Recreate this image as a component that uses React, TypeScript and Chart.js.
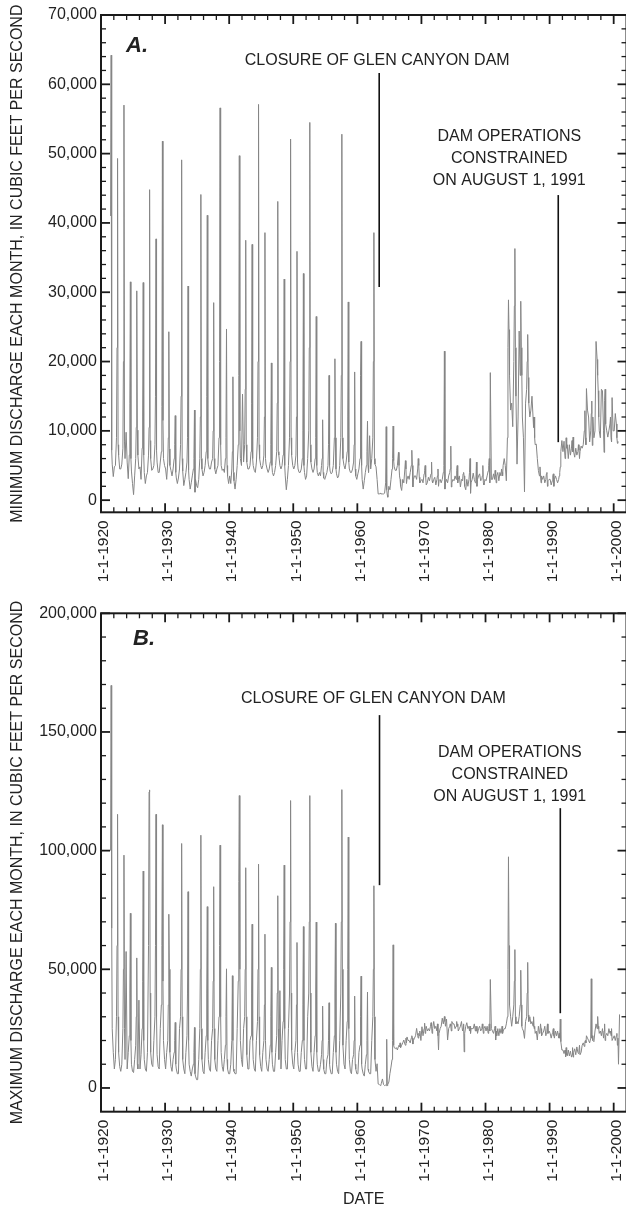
import React, { useEffect, useRef } from 'react';
import { Chart, registerables } from 'chart.js';

Chart.register(...registerables);

const FONT = "'Liberation Sans', Arial, Helvetica, sans-serif";
const TEXT = '#222';

// ---------- data ----------
const FIRST_YEAR = 1921;
// months sampled in each year (Jan, Mar, May, Jun, Jul, Aug, Sep, Nov), plotted at end of month
const sampleMonths = [1, 3, 5, 6, 7, 8, 9, 11];

const xTickYears = [1920, 1930, 1940, 1950, 1960, 1970, 1980, 1990, 2000];
const yTicksMin = [0, 10000, 20000, 30000, 40000, 50000, 60000, 70000];
const yTicksMax = [0, 50000, 100000, 150000, 200000];

// Panel A: minimum discharge each month (cfs), one row per year from 1921
const minDischarge: (number | null)[][] = [
  [null, null, null, 41000, 64200, 7200, 5200, 3400],
  [4800, 5000, 9000, 22000, 49300, 8000, 6500, 4500],
  [4500, 5200, 7500, 20000, 57000, 8400, 6000, 9800],
  [5500, 3100, 6500, 14000, 31500, 6000, 4200, 2400],
  [800, 3500, 6000, 10500, 30200, 10100, 6500, 4500],
  [4800, 3000, 7500, 12000, 31400, 6500, 4000, 2400],
  [3500, 4000, 6500, 10500, 44800, 8600, 6000, 4300],
  [4500, 5000, 8000, 15000, 37700, 7200, 5500, 4000],
  [4000, 5500, 7000, 13500, 51800, 11500, 6000, 5000],
  [4500, 3000, 5500, 9000, 24300, 7400, 5000, 4300],
  [3500, 4500, 6000, 8000, 12200, 4000, 3200, 2400],
  [3200, 4500, 8000, 15000, 49100, 6000, 4200, 2100],
  [3000, 4000, 5500, 9000, 30900, 4300, 3000, 1600],
  [2500, 3500, 4500, 6000, 13000, 1150, 3000, 2100],
  [1800, 3000, 6000, 12000, 44100, 6000, 4500, 3500],
  [4000, 5000, 7000, 15000, 41100, 6000, 5200, 4500],
  [4500, 5500, 6000, 10000, 28500, 6000, 4500, 3800],
  [4500, 5000, 9000, 20000, 56600, 8000, 5000, 4300],
  [4500, 4000, 6000, 9000, 24700, 5000, 3500, 2400],
  [3500, 2400, 4500, 7000, 17800, 4000, 2800, 1600],
  [3000, 5000, 8000, 18000, 49700, 10000, 6000, 5000],
  [15300, 5500, 8000, 16000, 37500, 8000, 5500, 4500],
  [4500, 5000, 7000, 14000, 36900, 6000, 5000, 4300],
  [4000, 5500, 9000, 20000, 57100, 8000, 6000, 5000],
  [4500, 5000, 6500, 12000, 38600, 6000, 5200, 4500],
  [4000, 4500, 5500, 8000, 19800, 5000, 4000, 3500],
  [4000, 5000, 7000, 14000, 43100, 7000, 6500, 5000],
  [4500, 5000, 6500, 12000, 31900, 5000, 3500, 1500],
  [3000, 5000, 9000, 20000, 52100, 9000, 6500, 5000],
  [4500, 5000, 6500, 12000, 35900, 5500, 4500, 4000],
  [4000, 4500, 6000, 10000, 32700, 5000, 4000, 3000],
  [3500, 6000, 10000, 22000, 54500, 8000, 5500, 4500],
  [4000, 4500, 6000, 9000, 26500, 5000, 4000, 3500],
  [4000, 3500, 5000, 6000, 11600, 4000, 3200, 3000],
  [3500, 4000, 5000, 8000, 18000, 5000, 4200, 3800],
  [4000, 5000, 9000, 20400, 9000, 4500, 3800, 3200],
  [3500, 5000, 9000, 18000, 52800, 9000, 6000, 5000],
  [4500, 5500, 7000, 12000, 28600, 5500, 4500, 4000],
  [4000, 4500, 5500, 8000, 18500, 4500, 3500, 3000],
  [3800, 4500, 6000, 18000, 22900, 5000, 3000, 1600],
  [2800, 4000, 5000, 7000, 11400, 5000, 4000, 9300],
  [4500, 6000, 9000, 20000, 38600, 6000, 5200, 4800],
  [3000, 900, 900, 900, 1000, 900, 900, 900],
  [900, 1000, 2500, 10600, 1500, 800, 430, 2000],
  [1500, 3000, 4500, 6000, 10700, 5700, 4800, 4300],
  [4300, 5000, 6900, 5000, 3500, 3000, 2000, 1400],
  [3000, 2500, 4500, 5700, 4500, 2400, 3000, 3500],
  [3000, 4000, 5000, 7200, 5000, 1900, 3000, 3500],
  [3500, 3000, 4500, 6000, 5000, 3300, 2500, 2800],
  [3000, 2500, 3800, 4300, 5000, 3300, 2200, 2500],
  [3300, 2800, 3500, 3800, 5500, 2800, 2500, 3000],
  [3300, 2200, 3000, 3500, 4500, 2000, 2800, 3000],
  [2500, 3000, 4000, 5000, 21500, 1600, 2500, 3000],
  [2500, 3500, 4000, 4500, 7800, 1900, 2500, 3000],
  [2800, 3500, 3000, 4300, 5000, 2500, 3000, 3500],
  [1900, 3000, 2800, 3800, 4000, 3500, 2000, 1500],
  [3000, 2000, 3000, 4000, 6000, 1000, 2500, 3000],
  [3900, 3000, 2500, 2800, 5500, 2000, 3000, 3500],
  [3800, 2800, 3000, 3500, 5000, 2500, 2200, 3000],
  [2800, 3500, 4200, 5000, 6000, 2500, 18400, 3000],
  [3000, 3800, 3000, 4300, 3500, 2500, 3500, 4000],
  [2800, 4000, 3500, 4500, 4000, 3500, 5000, 6000],
  [5000, 2800, 9000, 22000, 28900, 24600, 18000, 13000],
  [14000, 10600, 20000, 28000, 36300, 22000, 15000, 5200],
  [12000, 24400, 18000, 28700, 22000, 18000, 12000, 9000],
  [1200, 14000, 16000, 20000, 23900, 17700, 14000, 12000],
  [13000, 15000, 12000, 10500, 12000, 9000, 8000, 8100],
  [6000, 4300, 3500, 4800, 3500, 2500, 3500, 3000],
  [3500, 2500, 3000, 3800, 4000, 2000, 2800, 3000],
  [3000, 2200, 2800, 3500, 3800, 2000, 3000, 3500],
  [3000, 2500, 3000, 3500, 4000, 4800, 7000, 8600],
  [7000, 8500, 6000, 6500, 9000, 7500, 8000, 6000],
  [8000, 6500, 7500, 8600, 7000, 9100, 7000, 6200],
  [7500, 6500, 7000, 8000, 7200, 6000, 7000, 7800],
  [7500, 8000, 10000, 12900, 9000, 8000, 16100, 13000],
  [12000, 8400, 10000, 12500, 14300, 7900, 12000, 9000],
  [10000, 22900, 20300, 18000, 15800, 12000, 10000, 9000],
  [16000, 15800, 10000, 6900, 14400, 16000, 11000, 10000],
  [9100, 10000, 11000, 12000, 9000, 8400, 14800, 10000],
  [10000, 12500, 11000, 9000, 8200, 8500, null, null],
];

// Panel B: maximum discharge each month (cfs), one row per year from 1921
const maxDischarge: (number | null)[][] = [
  [null, null, null, 100000, 169600, 67300, 25000, 15000],
  [8000, 12000, 30000, 60000, 115300, 30000, 15000, 9000],
  [7000, 10000, 25000, 50000, 98100, 25000, 12000, 57500],
  [8000, 15000, 22000, 40000, 73600, 20000, 10000, 7000],
  [6500, 12000, 18000, 30000, 54800, 10000, 8000, 37000],
  [8000, 14000, 25000, 45000, 91400, 20000, 12000, 8000],
  [7000, 15000, 60000, 124700, 125600, 40000, 15000, 10000],
  [9000, 20000, 30000, 60000, 115300, 30000, 14000, 9000],
  [8000, 25000, 35000, 60000, 110900, 45000, 20000, 12000],
  [8000, 15000, 20000, 35000, 73200, 50000, 15000, 9000],
  [7000, 12000, 15000, 20000, 27600, 10000, 8000, 6000],
  [6000, 25000, 30000, 50000, 103000, 30000, 12000, 8000],
  [6000, 15000, 22000, 40000, 82700, 20000, 10000, 7000],
  [5000, 8000, 10000, 15000, 25500, 6000, 5000, 3500],
  [3500, 12000, 25000, 50000, 106500, 25000, 12000, 7000],
  [6000, 15000, 22000, 40000, 76400, 20000, 12000, 8000],
  [7000, 20000, 25000, 45000, 84800, 25000, 12000, 8000],
  [7000, 20000, 30000, 60000, 102300, 30000, 15000, 9000],
  [7000, 12000, 18000, 30000, 50200, 12000, 8000, 6000],
  [6000, 10000, 20000, 47300, 20000, 8000, 7000, 6000],
  [6000, 25000, 45000, 87000, 123200, 50000, 20000, 12000],
  [9000, 25000, 30000, 50000, 92800, 30000, 14000, 8000],
  [8000, 20000, 22000, 40000, 69000, 20000, 12000, 8000],
  [7000, 20000, 28000, 50000, 94300, 30000, 14000, 9000],
  [7000, 15000, 20000, 35000, 64800, 20000, 12000, 8000],
  [7000, 12000, 18000, 30000, 50800, 15000, 10000, 7000],
  [7000, 15000, 22000, 40000, 81000, 25000, 12000, 41000],
  [8000, 20000, 28000, 50000, 93900, 25000, 12000, 8000],
  [8000, 25000, 40000, 70000, 121100, 40000, 16000, 10000],
  [8000, 15000, 20000, 35000, 61300, 15000, 10000, 7000],
  [7000, 15000, 20000, 35000, 68000, 20000, 12000, 8000],
  [8000, 30000, 40000, 70000, 123200, 40000, 15000, 9000],
  [7000, 15000, 22000, 40000, 69900, 15000, 10000, 7000],
  [7000, 10000, 14000, 20000, 34500, 12000, 8000, 6000],
  [6000, 12000, 14000, 20000, 35900, 10000, 8000, 6000],
  [6000, 15000, 22000, 40000, 69400, 15000, 10000, 7000],
  [6000, 20000, 40000, 70000, 125700, 50000, 18000, 10000],
  [8000, 20000, 28000, 50000, 105700, 25000, 12000, 7000],
  [6000, 12000, 14000, 20000, 38700, 10000, 8000, 6000],
  [6000, 15000, 18000, 30000, 47100, 10000, 8000, 6000],
  [5000, 10000, 14000, 20000, 40400, 8000, 7000, 6000],
  [6000, 20000, 30000, 50000, 85200, 30000, 12000, 7000],
  [10200, 1700, 1500, 1500, 1000, 1200, 2000, 3800],
  [1500, 1000, 1200, 1000, 20500, 1000, 1500, 2500],
  [6000, 8800, 12000, 20000, 60300, 18000, 17000, 16600],
  [17000, 16000, 17500, 18000, 17300, 19000, 17000, 18000],
  [19000, 20200, 18500, 18000, 21000, 19000, 21500, 20000],
  [20000, 19000, 21000, 22000, 21000, 18500, 20000, 21000],
  [22000, 25100, 22000, 21000, 23000, 22000, 24000, 20000],
  [25800, 22000, 25000, 27300, 23000, 25000, 26000, 24000],
  [25000, 24000, 26000, 27500, 26000, 23000, 25000, 28000],
  [25000, 26000, 24000, 27000, 22000, 16000, 23000, 25000],
  [26000, 29400, 27000, 27000, 30100, 28000, 26000, 29000],
  [20200, 25000, 26000, 27000, 26000, 24000, 28000, 27000],
  [27000, 25000, 26000, 28000, 26000, 27000, 24000, 25000],
  [26000, 28000, 24000, 25000, 27000, 15200, 23000, 26000],
  [27500, 25000, 26000, 24000, 26000, 23000, 25000, 25000],
  [25000, 27000, 24000, 26000, 24000, 26000, 23000, 25000],
  [26000, 24000, 25000, 27000, 25000, 23000, 25000, 26000],
  [24000, 26000, 23000, 25000, 27000, 24000, 45700, 25000],
  [24000, 23000, 25000, 26000, 20200, 24000, 22000, 25000],
  [22000, 25000, 23000, 24000, 26000, 23000, 24000, 25000],
  [25000, 27000, 30000, 50000, 97400, 60000, 35000, 30000],
  [26000, 30000, 35000, 45000, 58300, 30000, 27000, 28000],
  [27000, 30000, 35000, 49600, 35000, 26000, 25000, 24000],
  [20900, 28000, 30000, 40000, 52900, 30800, 28000, 30000],
  [27000, 28000, 26000, 30000, 25000, 26000, 23000, 24000],
  [20200, 26000, 23000, 24000, 27000, 25000, 22000, 23000],
  [24000, 26000, 22000, 23000, 25000, 27000, 23000, 24000],
  [23000, 21000, 23000, 24000, 25000, 22000, 21000, 24000],
  [22000, 24000, 21000, 23000, 21000, 29000, 19500, 16000],
  [16000, 14500, 16000, 13100, 17000, 14000, 13500, 16000],
  [13500, 15500, 13000, 14000, 17000, 13000, 15000, 16500],
  [14000, 17300, 15000, 14500, 16000, 18000, 14000, 15000],
  [18000, 19000, 17500, 19500, 20000, 19000, 22000, 21000],
  [20000, 19000, 21000, 46000, 21000, 22000, 20000, 19500],
  [24000, 27000, 25000, 30100, 26000, 25000, 23000, 24000],
  [22000, 25000, 21000, 24000, 27000, 20000, 22000, 23000],
  [22000, 25000, 23000, 24000, 22000, 25000, 20000, 21000],
  [22000, 20000, 22000, 23000, 18000, 21000, 10000, 31000],
];

// ---------- panel configuration ----------
type PanelCfg = {
  letter: string; letterX: number; letterY: number;
  yTitle: string; yMin: number; yMax: number; yTicks: number[]; yMinorStep: number;
  lines: { x: number; y0: number; y1: number }[];
  texts: { text: string; x: number; y: number }[];
  canvasTop: number; canvasHeight: number; padTop: number; xAxisHeight: number; showDate: boolean;
  series: (number | null)[][];
};

const panelA: PanelCfg = {
  letter: 'A.', letterX: 1923.9, letterY: 64650,
  yTitle: 'MINIMUM DISCHARGE EACH MONTH, IN CUBIC FEET PER SECOND',
  yMin: -1750, yMax: 70000, yTicks: yTicksMin, yMinorStep: 2000,
  lines: [
    { x: 1963.41, y0: 30740, y1: 61630 },
    { x: 1991.35, y0: 8370, y1: 44020 },
  ],
  texts: [
    { text: 'CLOSURE OF GLEN CANYON DAM', x: 1963.1, y: 63390 },
    { text: 'DAM OPERATIONS', x: 1983.71, y: 52430 },
    { text: 'CONSTRAINED', x: 1983.71, y: 49240 },
    { text: 'ON AUGUST 1, 1991', x: 1983.71, y: 46070 },
  ],
  canvasTop: 0, canvasHeight: 600, padTop: 15, xAxisHeight: 87.7, showDate: false,
  series: minDischarge,
};

const panelB: PanelCfg = {
  letter: 'B.', letterX: 1925.0, letterY: 186600,
  yTitle: 'MAXIMUM DISCHARGE EACH MONTH, IN CUBIC FEET PER SECOND',
  yMin: -10000, yMax: 200000, yTicks: yTicksMax, yMinorStep: 10000,
  lines: [
    { x: 1963.46, y0: 85450, y1: 157100 },
    { x: 1991.67, y0: 31500, y1: 117900 },
  ],
  texts: [
    { text: 'CLOSURE OF GLEN CANYON DAM', x: 1962.5, y: 163950 },
    { text: 'DAM OPERATIONS', x: 1983.79, y: 141190 },
    { text: 'CONSTRAINED', x: 1983.79, y: 131830 },
    { text: 'ON AUGUST 1, 1991', x: 1983.79, y: 122890 },
  ],
  canvasTop: 600, canvasHeight: 608, padTop: 13.3, xAxisHeight: 96.3, showDate: true,
  series: maxDischarge,
};

const CANVAS_W = 628;

function decorPlugin(cfg: PanelCfg) {
  return {
    id: 'decor',
    afterDraw(chart: any) {
      const { ctx, chartArea: a } = chart;
      const xs = chart.scales.x;
      const ys = chart.scales.y;
      const seg = (x1: number, y1: number, x2: number, y2: number, w: number) => {
        ctx.lineWidth = w;
        ctx.beginPath();
        ctx.moveTo(x1, y1);
        ctx.lineTo(x2, y2);
        ctx.stroke();
      };
      ctx.save();
      ctx.strokeStyle = '#1a1a1a';
      ctx.lineCap = 'butt';
      for (const v of xTickYears) {
        const px = xs.getPixelForValue(v);
        seg(px, a.bottom, px, a.bottom - 9, 1.8);
        seg(px, a.top, px, a.top + 9, 1.8);
      }
      for (let v = 1922; v < 2002; v += 2) {
        if (v % 10 === 0) continue;
        const px = xs.getPixelForValue(v);
        seg(px, a.bottom, px, a.bottom - 5, 1.3);
        seg(px, a.top, px, a.top + 5, 1.3);
      }
      for (const v of cfg.yTicks) {
        const py = ys.getPixelForValue(v);
        seg(a.left, py, a.left + 9, py, 1.8);
        seg(a.right, py, a.right - 9, py, 1.8);
      }
      const step = cfg.yMinorStep;
      for (let v = Math.ceil(cfg.yMin / step) * step; v < cfg.yMax; v += step) {
        if (v <= cfg.yMin || cfg.yTicks.includes(v)) continue;
        const py = ys.getPixelForValue(v);
        seg(a.left, py, a.left + 5, py, 1.3);
        seg(a.right, py, a.right - 5, py, 1.3);
      }
      ctx.lineWidth = 2;
      ctx.strokeRect(a.left, a.top, a.right - a.left, a.bottom - a.top);
      ctx.strokeStyle = '#111';
      for (const ln of cfg.lines) {
        const px = xs.getPixelForValue(ln.x);
        seg(px, ys.getPixelForValue(ln.y0), px, ys.getPixelForValue(ln.y1), 1.6);
      }
      ctx.fillStyle = TEXT;
      ctx.font = `16px ${FONT}`;
      ctx.textAlign = 'center';
      ctx.textBaseline = 'middle';
      for (const t of cfg.texts) {
        ctx.fillText(t.text, xs.getPixelForValue(t.x), ys.getPixelForValue(t.y));
      }
      ctx.font = `italic bold 22px ${FONT}`;
      ctx.textAlign = 'left';
      ctx.textBaseline = 'alphabetic';
      ctx.fillText(cfg.letter, xs.getPixelForValue(cfg.letterX), ys.getPixelForValue(cfg.letterY));
      ctx.restore();
    },
  };
}

function Panel({ cfg }: { cfg: PanelCfg }) {
  const ref = useRef<HTMLCanvasElement | null>(null);
  useEffect(() => {
    const points: { x: number; y: number }[] = [];
    cfg.series.forEach((row, i) => {
      row.forEach((v, j) => {
        if (v !== null) points.push({ x: FIRST_YEAR + i + sampleMonths[j] / 12, y: v });
      });
    });
    const chart = new Chart(ref.current as HTMLCanvasElement, {
      type: 'line',
      data: {
        datasets: [
          {
            data: points,
            borderColor: '#858585',
            borderWidth: 1,
            pointRadius: 0,
            tension: 0,
            fill: false,
          },
        ],
      },
      options: {
        animation: false,
        responsive: false,
        maintainAspectRatio: false,
        devicePixelRatio: 1,
        events: [],
        layout: { padding: { top: cfg.padTop, right: 1.5, left: 0, bottom: 0 } },
        plugins: { legend: { display: false }, tooltip: { enabled: false }, title: { display: false } },
        scales: {
          x: {
            type: 'linear',
            min: 1920,
            max: 2002,
            afterBuildTicks: (s: any) => {
              s.ticks = xTickYears.map((v) => ({ value: v }));
            },
            afterFit: (s: any) => {
              s.height = cfg.xAxisHeight;
              s.paddingLeft = 0;
              s.paddingRight = 0;
            },
            grid: { display: false, drawTicks: false, tickLength: 0 },
            border: { display: false },
            ticks: {
              autoSkip: false,
              includeBounds: false,
              maxRotation: 90,
              minRotation: 90,
              padding: 8,
              labelOffset: 3,
              color: TEXT,
              font: { family: FONT, size: 15.5 },
              callback: (v: any) => '1-1-' + v,
            },
            title: {
              display: cfg.showDate,
              text: 'DATE',
              color: TEXT,
              font: { family: FONT, size: 16, lineHeight: 1 },
              padding: { top: 0, bottom: 0 },
            },
          },
          y: {
            type: 'linear',
            min: cfg.yMin,
            max: cfg.yMax,
            afterBuildTicks: (s: any) => {
              s.ticks = cfg.yTicks.map((v) => ({ value: v }));
            },
            afterFit: (s: any) => {
              s.width = 101;
              s.paddingTop = 0;
              s.paddingBottom = 0;
            },
            grid: { display: false, drawTicks: false, tickLength: 0 },
            border: { display: false },
            ticks: {
              includeBounds: false,
              padding: 4,
              color: TEXT,
              font: { family: FONT, size: 16 },
              callback: (v: any) => Number(v).toLocaleString('en-US'),
            },
            title: {
              display: true,
              text: cfg.yTitle,
              color: TEXT,
              font: { family: FONT, size: 16, lineHeight: 1.2 },
              padding: { top: 8, bottom: 0 },
            },
          },
        },
      },
      plugins: [decorPlugin(cfg)],
    });
    return () => chart.destroy();
  }, [cfg]);
  return (
    <canvas
      ref={ref}
      width={CANVAS_W}
      height={cfg.canvasHeight}
      style={{ position: 'absolute', left: 0, top: cfg.canvasTop, width: CANVAS_W, height: cfg.canvasHeight }}
    />
  );
}

export default function App() {
  return (
    <div
      style={{
        position: 'absolute',
        left: 0,
        top: 0,
        width: 626,
        height: 1208,
        overflow: 'hidden',
        background: '#fff',
      }}
    >
      <Panel cfg={panelA} />
      <Panel cfg={panelB} />
    </div>
  );
}
